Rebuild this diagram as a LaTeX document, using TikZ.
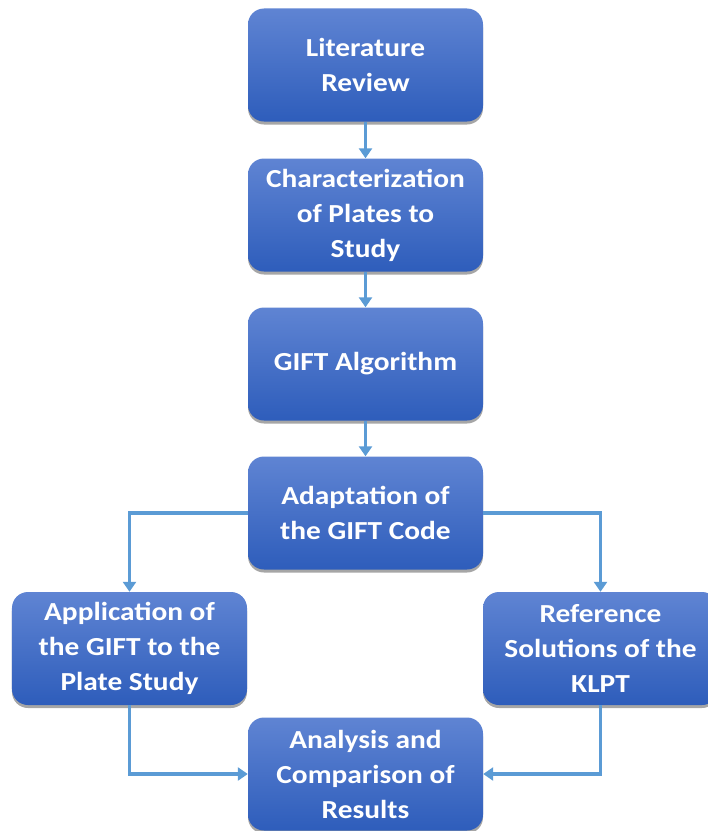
\documentclass[tikz,border=0pt]{standalone}
\usepackage{fontspec}
\setmainfont{Carlito}[FakeStretch=1.13]
\usetikzlibrary{shadows,arrows.meta}
\definecolor{boxtop}{HTML}{5F84D3}
\definecolor{boxbot}{HTML}{2E5DBB}
\definecolor{arr}{HTML}{5B9BD5}
\tikzset{
  stepbox/.style={rounded corners=16bp, minimum width=235bp, minimum height=113bp,
    top color=boxtop, bottom color=boxbot, draw=none,
    drop shadow={shadow xshift=0bp, shadow yshift=-3bp, opacity=0.35, fill=black},
    text=white, align=center, font=\bfseries\fontsize{26bp}{35bp}\selectfont, inner sep=0pt},
  conn/.style={draw=arr, line width=3.5bp, -{Triangle[width=13bp,length=10bp]}}
}
\begin{document}
\begin{tikzpicture}[x=1bp,y=-1bp]
\useasboundingbox (0,0) rectangle (708,831);
\node[stepbox] (lit) at (365.5,65) {Literature\\Review};
\node[stepbox] (char) at (365.5,215) {Characterization\\of Plates to\\Study};
\node[stepbox] (gift) at (365.5,364) {GIFT Algorithm};
\node[stepbox] (adapt) at (365.5,513) {Adaptation of\\the GIFT Code};
\node[stepbox] (app) at (129.5,648.5) {Application of\\the GIFT to the\\Plate Study};
\node[stepbox] (ref) at (600.5,648.5) {Reference\\Solutions of the\\KLPT};
\node[stepbox] (ana) at (365.5,774) {Analysis and\\Comparison of\\Results};
\draw[conn] (lit) -- (char);
\draw[conn] (char) -- (gift);
\draw[conn] (gift) -- (adapt);
\draw[conn] (adapt.west) -| (app.north);
\draw[conn] (adapt.east) -| (ref.north);
\draw[conn] (app.south) |- (ana.west);
\draw[conn] (ref.south) |- (ana.east);
\end{tikzpicture}
\end{document}
